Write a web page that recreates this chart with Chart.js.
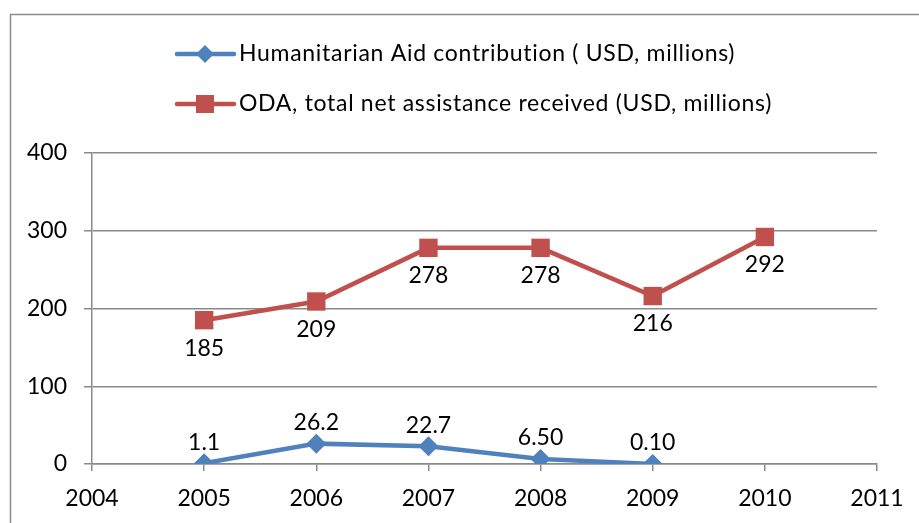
<!DOCTYPE html>
<html>
<head>
<meta charset="utf-8">
<script src="https://cdn.jsdelivr.net/npm/chart.js@4/dist/chart.umd.min.js"></script>
<style>
  html, body { margin: 0; padding: 0; background: #fff; }
  #wrap { width: 919px; height: 523px; }
</style>
</head>
<body>
<div id="wrap"><canvas id="c" width="919" height="523"></canvas></div>
<script>
// Years and series values (USD, millions)
const aidYears = [2005, 2006, 2007, 2008, 2009];
const aidValues = [1.1, 26.2, 22.7, 6.50, 0.10];
const aidDecimals = [1, 1, 1, 2, 2];

const odaYears = [2005, 2006, 2007, 2008, 2009, 2010];
const odaValues = [185, 209, 278, 278, 216, 292];
const odaDecimals = [0, 0, 0, 0, 0, 0];

const seriesNames = [
  'Humanitarian Aid contribution ( USD, millions)',
  'ODA, total net assistance received (USD, millions)'
];

const xMin = 2004, xMax = 2011;
const yTicks = [0, 100, 200, 300, 400];

const BLUE = '#4F81BD';
const RED = '#C0504D';
const GRID = '#8A8A8A';
const FONT = 'Lato';

// Outer frame around the chart
const framePlugin = {
  id: 'frame',
  beforeDraw(chart) {
    const ctx = chart.ctx;
    ctx.save();
    ctx.fillStyle = '#fff';
    ctx.fillRect(0, 0, chart.width, chart.height);
    ctx.strokeStyle = '#8C8C8C';
    ctx.lineWidth = 1.5;
    ctx.strokeRect(10.5, 14.5, chart.width + 20, chart.height + 20);
    ctx.restore();
  }
};

// Legend: line sample with marker, stacked rows
const legendPlugin = {
  id: 'stackedLegend',
  afterDraw(chart) {
    const ctx = chart.ctx;
    const rows = [
      { y: 54, color: BLUE, style: 'diamond', text: seriesNames[0] },
      { y: 104, color: RED, style: 'square', text: seriesNames[1] }
    ];
    ctx.save();
    rows.forEach(r => {
      ctx.strokeStyle = r.color;
      ctx.lineWidth = 4.5;
      ctx.lineCap = 'round';
      ctx.beginPath();
      ctx.moveTo(177, r.y);
      ctx.lineTo(234, r.y);
      ctx.stroke();
      ctx.fillStyle = r.color;
      ctx.beginPath();
      if (r.style === 'diamond') {
        ctx.moveTo(205, r.y - 9);
        ctx.lineTo(214, r.y);
        ctx.lineTo(205, r.y + 9);
        ctx.lineTo(196, r.y);
      } else {
        ctx.rect(196, r.y - 9, 18, 18);
      }
      ctx.closePath();
      ctx.fill();
      ctx.fillStyle = '#000';
      ctx.font = '23px ' + FONT;
      ctx.letterSpacing = '0.7px';
      ctx.textAlign = 'left';
      ctx.textBaseline = 'middle';
      ctx.fillText(r.text, 239, r.y);
    });
    ctx.restore();
  }
};

// Value labels: above the aid points, below the ODA points
const valueLabelPlugin = {
  id: 'valueLabels',
  afterDatasetsDraw(chart) {
    const ctx = chart.ctx;
    ctx.save();
    ctx.fillStyle = '#000';
    ctx.font = '23px ' + FONT;
    ctx.textAlign = 'center';
    ctx.textBaseline = 'middle';
    const specs = [
      { idx: 0, values: aidValues, dec: aidDecimals, dy: -21 },
      { idx: 1, values: odaValues, dec: odaDecimals, dy: 28 }
    ];
    specs.forEach(s => {
      const meta = chart.getDatasetMeta(s.idx);
      meta.data.forEach((pt, i) => {
        ctx.fillText(s.values[i].toFixed(s.dec[i]), pt.x, pt.y + s.dy);
      });
    });
    ctx.restore();
  }
};

new Chart(document.getElementById('c'), {
  type: 'line',
  data: {
    datasets: [
      {
        label: seriesNames[0],
        data: aidYears.map((x, i) => ({ x, y: aidValues[i] })),
        borderColor: BLUE,
        backgroundColor: BLUE,
        borderWidth: 4.5,
        pointStyle: 'rectRot',
        pointRadius: 10,
        pointBorderWidth: 0,
        tension: 0
      },
      {
        label: seriesNames[1],
        data: odaYears.map((x, i) => ({ x, y: odaValues[i] })),
        borderColor: RED,
        backgroundColor: RED,
        borderWidth: 4.5,
        pointStyle: 'rect',
        pointRadius: 13,
        pointBorderWidth: 0,
        tension: 0
      }
    ]
  },
  options: {
    responsive: false,
    animation: false,
    events: [],
    layout: { padding: { top: 153, right: 42, left: 0, bottom: 0 } },
    plugins: {
      legend: { display: false },
      tooltip: { enabled: false },
      title: { display: false }
    },
    scales: {
      x: {
        type: 'linear',
        min: xMin,
        max: xMax,
        afterFit(scale) { scale.height = 59; },
        ticks: {
          stepSize: 1,
          color: '#000',
          font: { family: FONT, size: 23 },
          padding: 14,
          maxRotation: 0,
          callback: v => String(v)
        },
        grid: {
          drawOnChartArea: false,
          drawTicks: true,
          tickLength: 7,
          color: GRID,
          lineWidth: 1.5
        },
        border: { display: true, color: GRID, width: 1.5 }
      },
      y: {
        min: 0,
        max: 400,
        afterFit(scale) { scale.width = 92; },
        afterBuildTicks(scale) { scale.ticks = yTicks.map(v => ({ value: v })); },
        ticks: {
          color: '#000',
          font: { family: FONT, size: 23 },
          padding: 17,
          callback: v => String(v)
        },
        grid: {
          drawOnChartArea: true,
          drawTicks: true,
          tickLength: 8,
          color: GRID,
          lineWidth: 1.5
        },
        border: { display: true, color: GRID, width: 1.5 }
      }
    }
  },
  plugins: [framePlugin, legendPlugin, valueLabelPlugin]
});
</script>
</body>
</html>
